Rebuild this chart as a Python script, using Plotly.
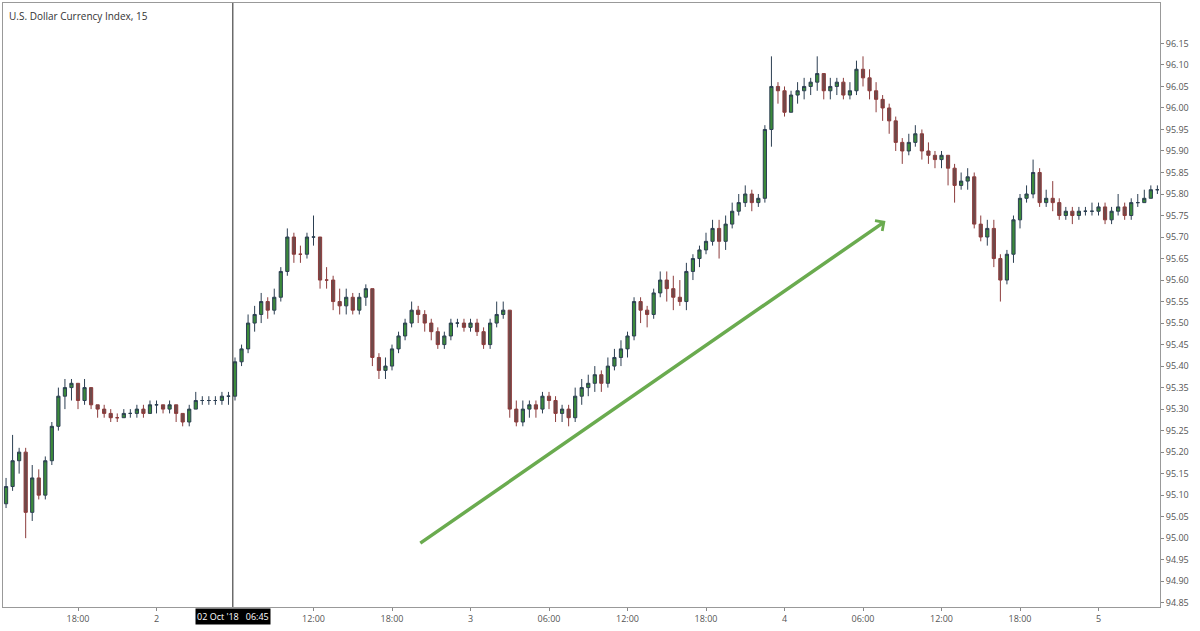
import pandas as pd
import plotly.graph_objects as go

# 30-minute bars, U.S. Dollar Index, 1-5 Oct 2018
start = '2018-10-01 12:30'
first_open = 95.08
closes = [95.12, 95.18, 95.20, 95.06, 95.14, 95.10, 95.18, 95.26, 95.33, 95.35,
          95.36, 95.32, 95.35, 95.31, 95.30, 95.29, 95.28, 95.28, 95.29, 95.29,
          95.30, 95.29, 95.31, 95.31, 95.30, 95.31, 95.29, 95.27, 95.30, 95.32,
          95.32, 95.32, 95.32, 95.33, 95.33, 95.41, 95.44, 95.50, 95.52, 95.55,
          95.53, 95.56, 95.62, 95.70, 95.66, 95.66, 95.70, 95.70, 95.60, 95.60,
          95.55, 95.54, 95.56, 95.53, 95.56, 95.58, 95.42, 95.39, 95.40, 95.44,
          95.47, 95.50, 95.53, 95.52, 95.50, 95.48, 95.45, 95.47, 95.50, 95.50,
          95.49, 95.50, 95.48, 95.45, 95.50, 95.52, 95.53, 95.30, 95.27, 95.30,
          95.31, 95.30, 95.33, 95.32, 95.29, 95.30, 95.28, 95.33, 95.35, 95.36,
          95.38, 95.36, 95.40, 95.42, 95.44, 95.47, 95.55, 95.53, 95.52, 95.57,
          95.60, 95.58, 95.56, 95.55, 95.62, 95.65, 95.67, 95.69, 95.72, 95.69,
          95.73, 95.76, 95.78, 95.80, 95.78, 95.79, 95.95, 96.05, 96.04, 95.99,
          96.03, 96.04, 96.05, 96.06, 96.08, 96.04, 96.05, 96.06, 96.03, 96.04,
          96.09, 96.07, 96.04, 96.02, 96.00, 95.97, 95.92, 95.90, 95.92, 95.94,
          95.90, 95.89, 95.88, 95.89, 95.86, 95.82, 95.83, 95.84, 95.73, 95.70,
          95.72, 95.65, 95.60, 95.66, 95.74, 95.79, 95.80, 95.85, 95.78, 95.79,
          95.78, 95.75, 95.76, 95.75, 95.76, 95.76, 95.76, 95.77, 95.74, 95.76,
          95.77, 95.75, 95.78, 95.78, 95.79, 95.81, 95.81]
highs = [95.14, 95.24, 95.21, 95.21, 95.17, 95.16, 95.19, 95.27, 95.35, 95.37,
         95.37, 95.36, 95.37, 95.35, 95.31, 95.31, 95.30, 95.29, 95.30, 95.30,
         95.31, 95.31, 95.32, 95.32, 95.31, 95.32, 95.31, 95.29, 95.31, 95.34,
         95.33, 95.33, 95.33, 95.34, 95.34, 95.42, 95.45, 95.52, 95.54, 95.57,
         95.56, 95.58, 95.63, 95.72, 95.71, 95.68, 95.71, 95.75, 95.70, 95.63,
         95.61, 95.58, 95.58, 95.57, 95.57, 95.59, 95.58, 95.43, 95.42, 95.45,
         95.48, 95.51, 95.55, 95.54, 95.53, 95.51, 95.49, 95.48, 95.51, 95.51,
         95.51, 95.51, 95.51, 95.49, 95.51, 95.55, 95.55, 95.53, 95.32, 95.32,
         95.32, 95.32, 95.34, 95.34, 95.33, 95.31, 95.31, 95.35, 95.37, 95.38,
         95.40, 95.39, 95.42, 95.44, 95.46, 95.48, 95.56, 95.56, 95.54, 95.58,
         95.62, 95.62, 95.61, 95.60, 95.64, 95.66, 95.68, 95.71, 95.74, 95.74,
         95.75, 95.78, 95.80, 95.82, 95.81, 95.80, 95.96, 96.12, 96.06, 96.05,
         96.04, 96.06, 96.07, 96.07, 96.12, 96.08, 96.07, 96.07, 96.07, 96.06,
         96.11, 96.12, 96.09, 96.06, 96.03, 96.01, 95.98, 95.93, 95.94, 95.96,
         95.95, 95.92, 95.90, 95.90, 95.89, 95.87, 95.85, 95.86, 95.85, 95.75,
         95.74, 95.74, 95.66, 95.67, 95.75, 95.80, 95.82, 95.88, 95.86, 95.81,
         95.83, 95.79, 95.77, 95.77, 95.77, 95.77, 95.78, 95.78, 95.78, 95.77,
         95.80, 95.78, 95.79, 95.80, 95.81, 95.82, 95.82]
lows = [95.07, 95.11, 95.15, 95.00, 95.04, 95.09, 95.09, 95.17, 95.25, 95.30,
        95.32, 95.30, 95.31, 95.30, 95.28, 95.28, 95.27, 95.27, 95.28, 95.28,
        95.28, 95.28, 95.29, 95.29, 95.29, 95.29, 95.27, 95.26, 95.26, 95.30,
        95.31, 95.31, 95.31, 95.31, 95.31, 95.32, 95.40, 95.43, 95.48, 95.50,
        95.51, 95.52, 95.55, 95.61, 95.64, 95.64, 95.65, 95.68, 95.58, 95.58,
        95.53, 95.52, 95.52, 95.52, 95.52, 95.54, 95.40, 95.37, 95.37, 95.39,
        95.43, 95.46, 95.49, 95.50, 95.48, 95.46, 95.44, 95.44, 95.46, 95.49,
        95.48, 95.48, 95.47, 95.44, 95.44, 95.49, 95.51, 95.28, 95.26, 95.26,
        95.28, 95.28, 95.29, 95.30, 95.27, 95.27, 95.26, 95.27, 95.31, 95.33,
        95.34, 95.34, 95.35, 95.39, 95.40, 95.42, 95.46, 95.50, 95.49, 95.51,
        95.56, 95.55, 95.53, 95.54, 95.53, 95.60, 95.63, 95.66, 95.68, 95.65,
        95.67, 95.72, 95.75, 95.77, 95.76, 95.77, 95.78, 95.91, 96.01, 95.98,
        95.99, 96.01, 96.02, 96.03, 96.04, 96.02, 96.02, 96.03, 96.02, 96.02,
        96.03, 96.05, 96.02, 95.99, 95.97, 95.94, 95.90, 95.87, 95.89, 95.91,
        95.88, 95.87, 95.86, 95.86, 95.82, 95.78, 95.81, 95.81, 95.72, 95.69,
        95.68, 95.63, 95.55, 95.59, 95.64, 95.72, 95.78, 95.79, 95.77, 95.77,
        95.76, 95.74, 95.74, 95.73, 95.74, 95.75, 95.75, 95.75, 95.73, 95.73,
        95.75, 95.74, 95.74, 95.77, 95.78, 95.79, 95.80]

tick_times = ['2018-10-01 18:00', '2018-10-02 00:00', '2018-10-02 12:00', '2018-10-02 18:00',
              '2018-10-03 00:00', '2018-10-03 06:00', '2018-10-03 12:00', '2018-10-03 18:00',
              '2018-10-04 00:00', '2018-10-04 06:00', '2018-10-04 12:00', '2018-10-04 18:00',
              '2018-10-05 00:00']
tick_labels = ['18:00', '2', '12:00', '18:00', '3', '06:00', '12:00', '18:00',
               '4', '06:00', '12:00', '18:00', '5']
price_ticks = [round(94.85 + 0.05 * k, 2) for k in range(27)]

times = pd.date_range(start, periods=len(closes), freq='30min')
opens = [first_open] + closes[:-1]
hi = [max(h, o, c) for h, o, c in zip(highs, opens, closes)]
lo = [min(l, o, c) for l, o, c in zip(lows, opens, closes)]

fig = go.Figure()
fig.add_trace(go.Candlestick(
    x=times, open=opens, high=hi, low=lo, close=closes,
    increasing=dict(fillcolor='#3b8a3b', line=dict(color='#2c3f52', width=1)),
    decreasing=dict(fillcolor='#6e4a4a', line=dict(color='#8c3c3c', width=1)),
    whiskerwidth=0, showlegend=False, hoverinfo='skip'))

# crosshair (label reads 02 Oct '18 06:45)
cross = pd.Timestamp('2018-10-02 05:50')
fig.add_shape(type='line', x0=cross, x1=cross, y0=0, y1=1, yref='paper',
              line=dict(color='#222222', width=1))
fig.add_annotation(x=cross, y=0, yref='paper', yanchor='top', yshift=-1,
                   text="02 Oct '18   06:45", showarrow=False, bgcolor='black',
                   font=dict(color='white', size=9, family='Open Sans'))

# trend arrow
fig.add_annotation(x=pd.Timestamp('2018-10-04 07:43'), y=95.737,
                   ax=pd.Timestamp('2018-10-02 20:03'), ay=94.986,
                   xref='x', yref='y', axref='x', ayref='y', text='',
                   showarrow=True, arrowhead=4, arrowsize=0.7, arrowwidth=3.5,
                   arrowcolor='#6aab4f')

fig.add_annotation(x=0, y=1, xref='paper', yref='paper', xanchor='left', yanchor='top',
                   xshift=4, yshift=-4, text='U.S. Dollar Currency Index, 15',
                   showarrow=False, font=dict(size=10, color='#333', family='Open Sans'))

fig.update_layout(
    width=1200, height=631, margin=dict(l=3, r=40, t=3, b=24, autoexpand=False),
    plot_bgcolor='white', paper_bgcolor='white',
    font=dict(family='Open Sans', size=9, color='#555'),
    xaxis=dict(rangeslider_visible=False, showgrid=False,
               range=[pd.Timestamp('2018-10-01 12:16'), pd.Timestamp('2018-10-05 04:42')],
               tickmode='array', tickvals=pd.to_datetime(tick_times), ticktext=tick_labels,
               ticks='outside', ticklen=3, tickcolor='#888',
               showline=True, linecolor='#999', mirror=True),
    yaxis=dict(side='right', showgrid=False, range=[94.84, 96.244],
               tickmode='array', tickvals=price_ticks,
               ticktext=['%.2f' % p for p in price_ticks],
               ticks='outside', ticklen=3, tickcolor='#888',
               showline=True, linecolor='#999', mirror=True),
)

fig.write_html("out.html", config={'displayModeBar': False},
               post_script="document.body.style.margin='0';")
